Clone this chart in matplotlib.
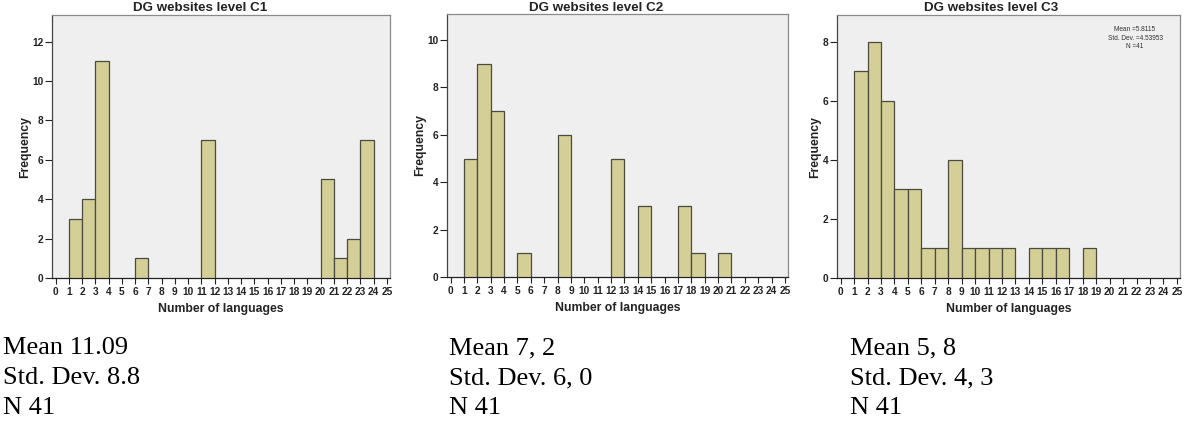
import matplotlib
matplotlib.use("Agg")
import matplotlib.pyplot as plt
import numpy as np

# Data: bins [k, k+1) -> frequency
c1_bins = [1, 2, 3, 6, 11, 20, 21, 22, 23]
c1_freq = [3, 4, 11, 1, 7, 5, 1, 2, 7]

c2_bins = [1, 2, 3, 5, 8, 12, 14, 17, 18, 20]
c2_freq = [5, 9, 7, 1, 6, 5, 3, 3, 1, 1]

c3_bins = [1, 2, 3, 4, 5, 6, 7, 8, 9, 10, 11, 12, 14, 15, 16, 18]
c3_freq = [7, 8, 6, 3, 3, 1, 1, 4, 1, 1, 1, 1, 1, 1, 1, 1]

titles = ["DG websites level C1", "DG websites level C2", "DG websites level C3"]
x_ticks = list(range(0, 26))
y_ticks = [list(range(0, 13, 2)), list(range(0, 11, 2)), list(range(0, 9, 2))]
y_max = [13.35, 11.1, 8.9]
stats_text = [["Mean 11.09", "Std. Dev. 8.8", "N 41"],
              ["Mean 7, 2", "Std. Dev. 6, 0", "N 41"],
              ["Mean 5, 8", "Std. Dev. 4, 3", "N 41"]]
inset_text = "Mean =5.8115\nStd. Dev. =4.53953\nN =41"

W, H = 1184, 421
fig = plt.figure(figsize=(W / 100, H / 100), dpi=100)

# axes frames in pixels: left, right, top, bottom
frames = [(52, 390, 15, 278), (447, 788, 14, 277), (837, 1180, 15, 278)]
title_cx = [200, 596, 991]
text_x = [3, 449, 850]

bar_face = "#D3CF97"
bar_edge = "#4a4a40"
bg = "#EFEFEF"
sans = ["Liberation Sans", "DejaVu Sans"]
serif = ["Liberation Serif", "DejaVu Serif"]

all_bins = [c1_bins, c2_bins, c3_bins]
all_freq = [c1_freq, c2_freq, c3_freq]

for i in range(3):
    l, r, t, b = frames[i]
    ax = fig.add_axes([l / W, 1 - b / H, (r - l) / W, (b - t) / H])
    ax.set_facecolor(bg)
    ax.bar(all_bins[i], all_freq[i], width=1.0, align="edge",
           color=bar_face, edgecolor=bar_edge, linewidth=0.9, zorder=3)
    ax.set_xlim(-0.27, 25.23)
    ax.set_ylim(0, y_max[i])
    ax.set_xticks(x_ticks)
    ax.set_xticklabels([str(v) for v in x_ticks], fontfamily=sans,
                       fontweight="bold", fontsize=7.3, color="#222222")
    ax.set_yticks(y_ticks[i])
    ax.set_yticklabels([str(v) for v in y_ticks[i]], fontfamily=sans,
                       fontweight="bold", fontsize=7.3, color="#222222")
    ax.tick_params(axis="x", direction="out", length=4.5, width=0.8,
                   pad=2.0, color="#222222")
    ax.tick_params(axis="y", direction="out", length=5, width=0.8,
                   pad=1.0, color="#222222")
    for side in ["top", "right", "left"]:
        ax.spines[side].set_color("#8a8a8a")
        ax.spines[side].set_linewidth(0.9)
    ax.spines["bottom"].set_color("#222222")
    ax.spines["bottom"].set_linewidth(0.9)
    ax.spines["left"].set_color("#444444")
    ax.set_xlabel("Number of languages", fontfamily=sans, fontweight="bold",
                  fontsize=8.8, labelpad=4, color="#222222")
    ax.set_ylabel("Frequency", fontfamily=sans, fontweight="bold",
                  fontsize=8.8, labelpad=1, color="#222222")
    fig.text(title_cx[i] / W, 1 - 8 / H, titles[i], fontfamily=sans,
             fontweight="bold", fontsize=9.6, ha="center", va="center",
             color="#222222")
    for j, line in enumerate(stats_text[i]):
        fig.text(text_x[i] / W, 1 - (354 + 30 * j) / H, line,
                 fontfamily=serif, fontsize=19, ha="left",
                 va="baseline", color="black")

# inset statistics box in third panel
fig.text(1135 / W, 1 - 38 / H, inset_text, fontfamily=sans, fontsize=4.7,
         ha="center", va="center", color="#333333", linespacing=1.25)

fig.savefig("out.png", dpi=100)
